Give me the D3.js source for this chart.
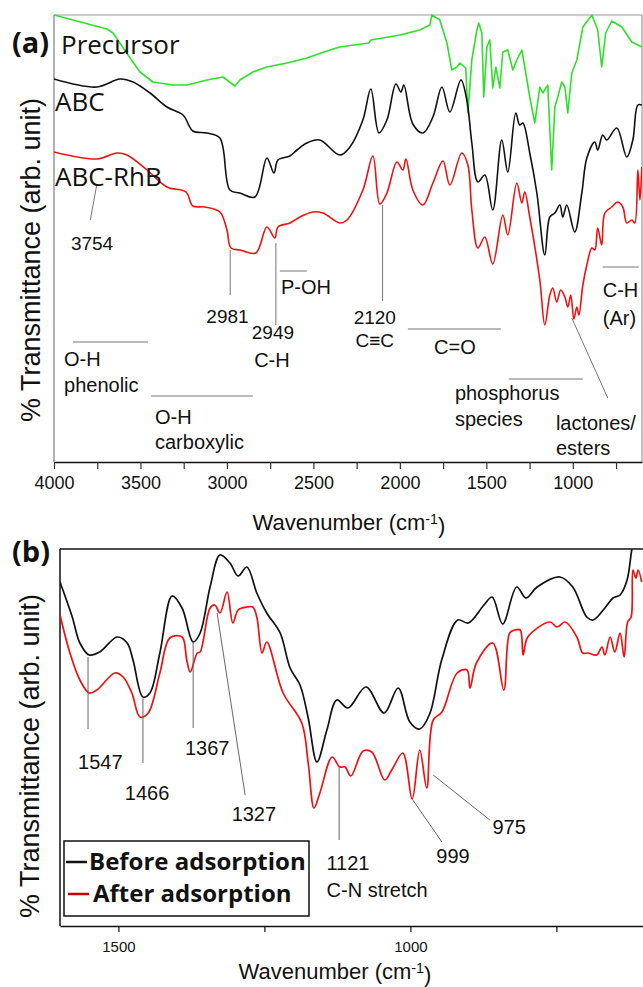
<!DOCTYPE html>
<html>
<head>
<meta charset="utf-8">
<script src="https://cdn.jsdelivr.net/npm/d3@7/dist/d3.min.js"></script>
<style>
  html, body { margin: 0; padding: 0; background: #fff; }
  svg { display: block; }
  .ann { font-family: "Liberation Sans", Arial, sans-serif; fill: #111; }
  .lbl { font-family: "Open Sans", sans-serif; fill: #111; }
</style>
</head>
<body>
<svg id="chart" width="643" height="987"></svg>
<script>
// ---------- Panel (a): FTIR spectra, wavenumber (cm-1) vs. transmittance (arb. unit) ----------
const precursorWn = [4000,3694,3659,3580,3503,3428,3312,3231,3115,3023,2954,2925,2850,2770,2653,2538,2405,2347,2180,2168,2000,1885,1827,1815,1769,1728,1700,1671,1653,1619,1607,1584,1555,1544,1526,1515,1497,1480,1463,1445,1422,1405,1376,1347,1324,1295,1278,1249,1220,1191,1174,1145,1122,1104,1087,1064,1046,1029,1006,977,942,890,856,833,810,775,717,659,601];
const precursorT  = [447,433,429,409,390,380,377,377,382,385,376,382,390,395,399,404,412,415,419,422,427,432,437,447,442,419,392,395,399,394,349,402,432,439,429,365,415,422,374,395,374,410,412,392,402,412,395,365,339,375,369,377,292,355,365,380,375,349,389,402,435,447,432,395,429,441,435,420,415];

const abcWn = [4000,3751,3619,3543,3445,3347,3254,3197,3116,3041,2983,2925,2838,2769,2728,2705,2636,2595,2538,2463,2347,2289,2214,2168,2121,2075,2023,1994,1977,1925,1867,1809,1757,1711,1647,1613,1584,1549,1509,1463,1411,1376,1330,1307,1289,1249,1208,1162,1133,1104,1075,1058,1035,989,948,919,873,856,827,804,746,688,653,624,600];
const abcT  = [383,375,383,380,369,355,347,331,329,324,272,269,265,304,289,302,306,312,319,322,307,315,342,373,329,342,378,370,377,338,329,345,375,350,382,362,319,280,287,252,322,290,349,337,339,309,269,207,245,249,257,245,257,230,269,304,320,312,327,322,334,305,322,357,357];

const abcRhbWn = [4000,3751,3636,3578,3462,3347,3237,3197,3128,3041,3000,2977,2925,2833,2769,2723,2705,2636,2578,2503,2445,2347,2306,2214,2156,2116,2075,2017,1983,1965,1925,1867,1809,1751,1711,1642,1607,1584,1549,1509,1463,1405,1376,1324,1295,1278,1249,1191,1162,1133,1116,1093,1070,1046,1029,1012,994,977,965,942,919,890,873,856,833,815,775,740,711,688,659,642,624,612,601];
const abcRhbT  = [310,303,309,307,292,275,270,256,255,250,232,214,212,209,235,224,235,239,245,250,249,239,242,272,306,258,269,300,292,303,272,257,279,301,277,309,297,252,214,225,198,247,227,279,259,270,245,182,137,167,174,160,172,165,155,167,143,155,147,177,197,214,212,234,217,249,255,260,255,239,242,239,292,262,295];

const ticksA = [4000,3500,3000,2500,2000,1500,1000];
const minorTicksA = [3750,3250,2750,2250,1750,1250,750];

// peak / band annotations for panel (a): line ends and label anchors in data units
const peakLinesA = [
  {x1: 3754, y1: 276, x2: 3790, y2: 242},
  {x1: 2981, y1: 212, x2: 2981, y2: 167},
  {x1: 2717, y1: 219, x2: 2717, y2: 137},
  {x1: 2100, y1: 257, x2: 2100, y2: 161},
  {x1: 1006, y1: 144, x2: 798,  y2: 64}
];
const bandLinesA = [
  {from: 3890, to: 3457, y: 120},
  {from: 3439, to: 2850, y: 66},
  {from: 2694, to: 2538, y: 191},
  {from: 1954, to: 1416, y: 133},
  {from: 1370, to: 942,  y: 83},
  {from: 827,  to: 619,  y: 195}
];
const labelsA = [
  {wn: 3780, y: 219, text: "3754", anchor: "middle", size: 19},
  {wn: 2997, y: 146, text: "2981", anchor: "middle", size: 19},
  {wn: 2734, y: 130, text: "2949", anchor: "middle", size: 19},
  {wn: 2740, y: 102, text: "C-H",  anchor: "middle", size: 20},
  {wn: 2688, y: 175, text: "P-OH", anchor: "start",  size: 20},
  {wn: 2145, y: 145, text: "2120", anchor: "middle", size: 19},
  {wn: 2145, y: 122, text: "C\u2261C", anchor: "middle", size: 19},
  {wn: 1682, y: 115, text: "C=O",  anchor: "middle", size: 20},
  {wn: 3942, y: 103, text: "O-H",  anchor: "start",  size: 20},
  {wn: 3942, y: 77,  text: "phenolic", anchor: "start", size: 20},
  {wn: 3416, y: 45,  text: "O-H",  anchor: "start",  size: 20},
  {wn: 3416, y: 20,  text: "carboxylic", anchor: "start", size: 20},
  {wn: 1682, y: 69,  text: "phosphorus", anchor: "start", size: 20},
  {wn: 1682, y: 43,  text: "species", anchor: "start", size: 20},
  {wn: 1098, y: 39,  text: "lactones/", anchor: "start", size: 20},
  {wn: 1098, y: 14,  text: "esters", anchor: "start", size: 20},
  {wn: 827,  y: 172, text: "C-H",  anchor: "start",  size: 20},
  {wn: 827,  y: 144, text: "(Ar)", anchor: "start",  size: 20}
];

// ---------- Panel (b): before / after adsorption ----------
const beforeWn = [1600,1579,1566,1550,1532,1502,1485,1475,1458,1446,1429,1408,1391,1372,1360,1343,1326,1309,1295,1280,1263,1246,1223,1206,1189,1175,1160,1143,1126,1107,1076,1045,1021,1001,984,967,946,919,901,874,860,842,818,802,783,744,722,698,687,667,653,641,629,621,614];
const beforeT  = [344,309,283,271,274,289,283,266,229,233,273,330,318,284,293,339,371,363,350,359,333,313,293,258,241,208,164,196,226,218,239,213,238,204,197,212,267,306,303,321,329,302,339,328,339,349,339,309,306,318,328,331,346,376,396];

const afterWn = [1600,1583,1566,1550,1537,1506,1492,1477,1463,1449,1429,1412,1391,1383,1377,1365,1360,1343,1335,1326,1314,1304,1295,1280,1270,1263,1254,1246,1218,1186,1175,1165,1155,1134,1121,1112,1102,1081,1066,1044,1032,1013,997,984,972,961,946,920,903,898,887,859,840,830,821,812,807,799,761,749,735,715,705,696,681,672,667,658,650,641,634,628,622,619,614,610,604];
const afterT  = [311,273,246,233,236,253,249,233,209,213,253,288,289,266,254,273,274,318,321,313,334,303,316,319,319,309,273,284,233,203,163,118,133,169,159,159,150,175,174,146,156,173,127,176,138,206,214,253,256,238,263,283,236,293,296,296,271,289,304,299,304,289,273,273,271,279,271,289,274,293,269,304,309,356,348,356,344];

const ticksB = [1500,1250,1000,750];
const tickLabelsB = [1500,1000];
const seriesB = ["Before adsorption", "After adsorption"];

const peakLinesB = [
  {x1: 1552, y1: 269, x2: 1552, y2: 197},
  {x1: 1458, y1: 228, x2: 1458, y2: 163},
  {x1: 1372, y1: 284, x2: 1372, y2: 198},
  {x1: 1331, y1: 313, x2: 1283, y2: 131},
  {x1: 1122, y1: 159, x2: 1122, y2: 86},
  {x1: 997,  y1: 127, x2: 946,  y2: 84},
  {x1: 961,  y1: 151, x2: 864,  y2: 106}
];
const labelsB = [
  {wn: 1531, y: 164, text: "1547"},
  {wn: 1451, y: 133, text: "1466"},
  {wn: 1348, y: 178, text: "1367"},
  {wn: 1268, y: 112, text: "1327"},
  {wn: 1107, y: 63,  text: "1121"},
  {wn: 1057, y: 36,  text: "C-N stretch"},
  {wn: 927,  y: 70,  text: "999"},
  {wn: 831,  y: 99,  text: "975"}
];

const svg = d3.select("#chart");
const zip = (xs, ys) => xs.map((x, i) => [x, ys[i]]);

// ===== Panel (a) =====
const A = {left: 54, right: 642, top: 15, bottom: 462};
const xA = d3.scaleLinear().domain([4000, 600]).range([A.left, A.right]);
const yA = d3.scaleLinear().domain([0, 447]).range([A.bottom, A.top]);

svg.append("clipPath").attr("id", "clipA").append("rect")
  .attr("x", A.left).attr("y", A.top - 2).attr("width", A.right - A.left).attr("height", A.bottom - A.top + 2);

const gA = svg.append("g");
// frame
gA.append("line").attr("x1", A.left).attr("x2", A.right).attr("y1", A.top).attr("y2", A.top).attr("stroke", "#999").attr("stroke-width", 1.2);
gA.append("line").attr("x1", A.right).attr("x2", A.right).attr("y1", A.top).attr("y2", A.bottom).attr("stroke", "#999").attr("stroke-width", 1.2);
gA.append("line").attr("x1", A.left).attr("x2", A.left).attr("y1", A.top).attr("y2", A.bottom).attr("stroke", "#888").attr("stroke-width", 1.3);

const axA = d3.axisBottom(xA).tickValues(ticksA.concat(minorTicksA)).tickSize(7).tickSizeOuter(0)
  .tickFormat(d => ticksA.includes(d) ? d : "");
const gAxA = gA.append("g").attr("transform", `translate(0,${A.bottom})`).call(axA);
gAxA.select(".domain").attr("stroke", "#111").attr("stroke-width", 1.5);
gAxA.selectAll(".tick line").attr("stroke", "#333").attr("stroke-width", 1.2);
gAxA.selectAll(".tick text").attr("font-family", "Liberation Sans, Arial, sans-serif").attr("font-size", 18).attr("fill", "#111").attr("dy", "0.95em");

const smoothA = d3.line().x(d => xA(d[0])).y(d => yA(d[1])).curve(d3.curveCatmullRom.alpha(0.5));
const jaggedA = d3.line().x(d => xA(d[0])).y(d => yA(d[1])).curve(d3.curveLinear);

const plotA = gA.append("g").attr("clip-path", "url(#clipA)");
plotA.append("path").datum(zip(precursorWn, precursorT)).attr("d", jaggedA)
  .attr("fill", "none").attr("stroke", "#2ee02a").attr("stroke-width", 1.6).attr("stroke-linejoin", "round");
plotA.append("path").datum(zip(abcWn, abcT)).attr("d", smoothA)
  .attr("fill", "none").attr("stroke", "#111").attr("stroke-width", 1.6);
plotA.append("path").datum(zip(abcRhbWn, abcRhbT)).attr("d", smoothA)
  .attr("fill", "none").attr("stroke", "#ee1111").attr("stroke-width", 1.6);

// annotations
gA.selectAll(".pkA").data(peakLinesA).join("line")
  .attr("x1", d => xA(d.x1)).attr("y1", d => yA(d.y1)).attr("x2", d => xA(d.x2)).attr("y2", d => yA(d.y2))
  .attr("stroke", "#777").attr("stroke-width", 1);
gA.selectAll(".bdA").data(bandLinesA).join("line")
  .attr("x1", d => xA(d.from)).attr("x2", d => xA(d.to)).attr("y1", d => yA(d.y)).attr("y2", d => yA(d.y))
  .attr("stroke", "#777").attr("stroke-width", 1);
gA.selectAll(".lbA").data(labelsA).join("text").attr("class", "ann")
  .attr("x", d => xA(d.wn)).attr("y", d => yA(d.y)).attr("dy", "0.35em")
  .attr("text-anchor", d => d.anchor).attr("font-size", d => d.size).text(d => d.text);

// series names and panel tag
svg.append("text").attr("class", "lbl").attr("x", 61).attr("y", 45).attr("dy", "0.35em").attr("font-size", 26).text("Precursor");
svg.append("text").attr("class", "lbl").attr("x", 55).attr("y", 102).attr("dy", "0.35em").attr("font-size", 26).text("ABC");
svg.append("text").attr("class", "lbl").attr("x", 55).attr("y", 177).attr("dy", "0.35em").attr("font-size", 26).text("ABC-RhB");
svg.append("text").attr("class", "lbl").attr("x", 12).attr("y", 43).attr("dy", "0.35em").attr("font-size", 29).attr("font-weight", 700).text("(a)");

function axisTitle(x, y, size) {
  const t = svg.append("text").attr("class", "ann").attr("x", x).attr("y", y)
    .attr("text-anchor", "middle").attr("font-size", size);
  t.append("tspan").text("Wavenumber (cm");
  t.append("tspan").attr("dy", "-0.45em").attr("font-size", size * 0.65).text("-1");
  t.append("tspan").attr("dy", "0.45em").text(")");
}
function yTitle(cx, cy) {
  svg.append("text").attr("class", "ann").attr("transform", `translate(${cx},${cy}) rotate(-90)`)
    .attr("text-anchor", "middle").attr("dy", "0.35em").attr("font-size", 27)
    .text("% Transmittance (arb. unit)");
}
axisTitle(349, 530, 22);
yTitle(31, 260);

// ===== Panel (b) =====
const B = {left: 60, right: 644, top: 549, bottom: 926};
const xB = d3.scaleLinear().domain([1600, 600]).range([B.left, B.right]);
const yB = d3.scaleLinear().domain([0, 377]).range([B.bottom, B.top]);

svg.append("clipPath").attr("id", "clipB").append("rect")
  .attr("x", B.left).attr("y", B.top).attr("width", B.right - B.left).attr("height", B.bottom - B.top);

const gB = svg.append("g");
gB.append("line").attr("x1", B.left).attr("x2", B.right).attr("y1", B.top).attr("y2", B.top).attr("stroke", "#111").attr("stroke-width", 1.5);
gB.append("line").attr("x1", B.left).attr("x2", B.left).attr("y1", B.top).attr("y2", B.bottom).attr("stroke", "#111").attr("stroke-width", 1.5);

const axB = d3.axisBottom(xB).tickValues(ticksB).tickSize(6).tickSizeOuter(0)
  .tickFormat(d => tickLabelsB.includes(d) ? d : "");
const gAxB = gB.append("g").attr("transform", `translate(0,${B.bottom})`).call(axB);
gAxB.select(".domain").attr("stroke", "#111").attr("stroke-width", 1.5);
gAxB.selectAll(".tick line").attr("stroke", "#111").attr("stroke-width", 1.2);
gAxB.selectAll(".tick text").attr("font-family", "Liberation Sans, Arial, sans-serif").attr("font-size", 15).attr("fill", "#111").attr("dy", "1.1em");

const smoothB = d3.line().x(d => xB(d[0])).y(d => yB(d[1])).curve(d3.curveCatmullRom.alpha(0.5));
const plotB = gB.append("g").attr("clip-path", "url(#clipB)");
plotB.append("path").datum(zip(beforeWn, beforeT)).attr("d", smoothB)
  .attr("fill", "none").attr("stroke", "#111").attr("stroke-width", 1.7);
plotB.append("path").datum(zip(afterWn, afterT)).attr("d", smoothB)
  .attr("fill", "none").attr("stroke", "#ee1111").attr("stroke-width", 1.7);

gB.selectAll(".pkB").data(peakLinesB).join("line")
  .attr("x1", d => xB(d.x1)).attr("y1", d => yB(d.y1)).attr("x2", d => xB(d.x2)).attr("y2", d => yB(d.y2))
  .attr("stroke", "#666").attr("stroke-width", 1);
gB.selectAll(".lbB").data(labelsB).join("text").attr("class", "ann")
  .attr("x", d => xB(d.wn)).attr("y", d => yB(d.y)).attr("dy", "0.35em")
  .attr("text-anchor", "middle").attr("font-size", 20).text(d => d.text);

// legend
const leg = svg.append("g");
leg.append("rect").attr("x", 64).attr("y", 841).attr("width", 245).attr("height", 75)
  .attr("fill", "#fff").attr("stroke", "#111").attr("stroke-width", 1.5);
const legColors = ["#111", "#c00000"];
const legY = [862, 894];
seriesB.forEach((name, i) => {
  leg.append("line").attr("x1", 66 + i * 2).attr("x2", 87 + i * 2).attr("y1", legY[i]).attr("y2", legY[i])
    .attr("stroke", legColors[i]).attr("stroke-width", 2.5);
  leg.append("text").attr("class", "lbl").attr("x", 89 + i * 4).attr("y", legY[i]).attr("dy", "0.35em")
    .attr("font-size", 24).attr("font-weight", 700).text(name);
});

svg.append("text").attr("class", "lbl").attr("x", 12).attr("y", 552).attr("dy", "0.35em").attr("font-size", 29).attr("font-weight", 700).text("(b)");
axisTitle(335, 979, 22);
yTitle(30, 756);
</script>
</body>
</html>
